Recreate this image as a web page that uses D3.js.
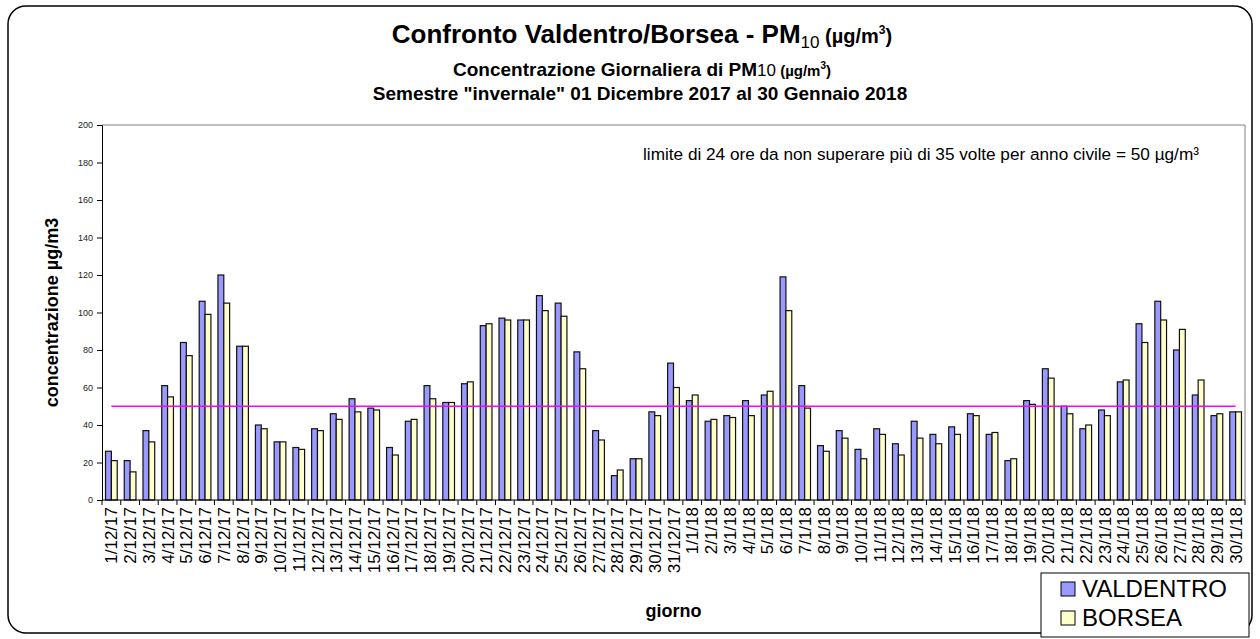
<!DOCTYPE html>
<html>
<head>
<meta charset="utf-8">
<script src="https://cdn.jsdelivr.net/npm/d3@7"></script>
<style>
  body { margin: 0; background: #fff; }
  svg { font-family: "Liberation Sans", Arial, sans-serif; }
</style>
</head>
<body>
<div id="chart"></div>
<script>
var giorni = ["1/12/17","2/12/17","3/12/17","4/12/17","5/12/17","6/12/17","7/12/17","8/12/17","9/12/17","10/12/17",
              "11/12/17","12/12/17","13/12/17","14/12/17","15/12/17","16/12/17","17/12/17","18/12/17","19/12/17","20/12/17",
              "21/12/17","22/12/17","23/12/17","24/12/17","25/12/17","26/12/17","27/12/17","28/12/17","29/12/17","30/12/17",
              "31/12/17","1/1/18","2/1/18","3/1/18","4/1/18","5/1/18","6/1/18","7/1/18","8/1/18","9/1/18",
              "10/1/18","11/1/18","12/1/18","13/1/18","14/1/18","15/1/18","16/1/18","17/1/18","18/1/18","19/1/18",
              "20/1/18","21/1/18","22/1/18","23/1/18","24/1/18","25/1/18","26/1/18","27/1/18","28/1/18","29/1/18","30/1/18"];
var valdentro = [26,21,37,61,84,106,120,82,40,31, 28,38,46,54,49,28,42,61,52,62, 93,97,96,109,105,79,37,13,22,47,
                 73, 53,42,45,53,56,119,61,29,37, 27,38,30,42,35,39,46,35,21,53, 70,50,38,48,63,94,106,80,56,45,47];
var borsea = [21,15,31,55,77,99,105,82,38,31, 27,37,43,47,48,24,43,54,52,63, 94,96,96,101,98,70,32,16,22,45,
              60, 56,43,44,45,58,101,49,26,33, 22,35,24,33,30,35,45,36,22,51, 65,46,40,45,64,84,96,91,64,46,47];
var serie = ["VALDENTRO", "BORSEA"];
var colori = ["#9999ff", "#ffffcc"];
var yTicks = [0,20,40,60,80,100,120,140,160,180,200];
var limite = 50;

function init()
{
    var w = 1260;
    var h = 639;
    var left = 102, right = 1245, top = 125, bottom = 500;

    var svg = d3.select("#chart")
                .append("svg")
                .attr("width", w)
                .attr("height", h);

    // cornice esterna
    svg.append("rect")
       .attr("x", 8).attr("y", 6)
       .attr("width", 1244).attr("height", 627)
       .attr("rx", 18).attr("ry", 18)
       .attr("fill", "none")
       .attr("stroke", "#000")
       .attr("stroke-width", 1.5);

    var xScale = d3.scaleBand()
                   .domain(giorni)
                   .range([left, right])
                   .paddingInner(0.375)
                   .paddingOuter(0.1875);

    var xSub = d3.scaleBand()
                 .domain(serie)
                 .range([0, xScale.bandwidth()]);

    var yScale = d3.scaleLinear()
                   .domain([0, 200])
                   .range([bottom, top]);

    // bordo area grafico
    svg.append("path")
       .attr("d", "M" + left + "," + top + "H" + right + "V" + bottom)
       .attr("fill", "none")
       .attr("stroke", "#808080")
       .attr("stroke-width", 1);

    var dati = giorni.map(function(g, i) {
        return {giorno: g, valori: [valdentro[i], borsea[i]]};
    });

    var gruppi = svg.selectAll("g.giorno")
                    .data(dati)
                    .enter()
                    .append("g")
                    .attr("class", "giorno")
                    .attr("transform", function(d) {
                        return "translate(" + xScale(d.giorno) + ",0)";
                    });

    gruppi.selectAll("rect")
          .data(function(d) { return d.valori; })
          .enter()
          .append("rect")
          .attr("x", function(d, i) { return xSub(serie[i]); })
          .attr("y", function(d) { return yScale(d); })
          .attr("width", xSub.bandwidth())
          .attr("height", function(d) { return bottom - yScale(d); })
          .attr("fill", function(d, i) { return colori[i]; })
          .attr("stroke", "#111")
          .attr("stroke-width", 1.2);

    // asse y
    var yAxis = d3.axisLeft(yScale)
                  .tickValues(yTicks)
                  .tickSize(5)
                  .tickPadding(4);
    var gy = svg.append("g")
                .attr("transform", "translate(" + left + ",0)")
                .call(yAxis);
    gy.select(".domain").attr("stroke", "#000");
    gy.selectAll("text").attr("font-size", "9px").attr("fill", "#222")
      .attr("font-family", "\"Liberation Sans\", Arial, sans-serif");

    // asse x
    var xAxis = d3.axisBottom(xScale).tickSize(0).tickPadding(0);
    var gx = svg.append("g")
                .attr("transform", "translate(0," + bottom + ")")
                .call(xAxis);
    gx.select(".domain").attr("stroke", "#000").attr("d", "M" + left + ",0H" + right);
    gx.selectAll(".tick text")
      .attr("font-size", "17px")
      .attr("fill", "#000")
      .attr("font-family", "\"Liberation Sans\", Arial, sans-serif")
      .attr("text-anchor", "end")
      .attr("transform", "rotate(-90)")
      .attr("x", -7)
      .attr("y", 0)
      .attr("dy", "0.36em");

    // tacche tra le categorie
    var step = xScale.step();
    var confini = giorni.map(function(g) { return xScale(g) - step * xScale.paddingOuter(); });
    confini.push(right);
    gx.selectAll("line.sep")
      .data(confini)
      .enter()
      .append("line")
      .attr("class", "sep")
      .attr("x1", function(d) { return d; })
      .attr("x2", function(d) { return d; })
      .attr("y1", 0)
      .attr("y2", 5)
      .attr("stroke", "#000");

    // linea del limite
    var x0 = xScale(giorni[0]) + xScale.bandwidth() / 2;
    var x1 = xScale(giorni[giorni.length - 1]) + xScale.bandwidth() / 2;
    svg.append("line")
       .attr("x1", x0).attr("x2", x1)
       .attr("y1", yScale(limite)).attr("y2", yScale(limite))
       .attr("stroke", "#ff00ff")
       .attr("stroke-width", 1.6);

    svg.append("text")
       .attr("x", 643)
       .attr("y", 160)
       .attr("font-size", "17.2px")
       .attr("fill", "#000")
       .text("limite di 24 ore da non superare più di 35 volte per anno civile = 50 µg/m³");

    // titoli
    var t1 = svg.append("text")
                .attr("x", 642).attr("y", 43)
                .attr("text-anchor", "middle")
                .attr("font-weight", "bold");
    t1.append("tspan").attr("font-size", "26px").text("Confronto Valdentro/Borsea - PM");
    t1.append("tspan").attr("font-size", "17px").attr("font-weight", "normal").attr("dy", 5).text("10");
    t1.append("tspan").attr("font-size", "20px").attr("dy", -5).text(" (µg/m");
    t1.append("tspan").attr("font-size", "12px").attr("dy", -9).text("3");
    t1.append("tspan").attr("font-size", "20px").attr("dy", 9).text(")");

    var t2 = svg.append("text")
                .attr("x", 642).attr("y", 76)
                .attr("text-anchor", "middle")
                .attr("font-weight", "bold");
    t2.append("tspan").attr("font-size", "19px").text("Concentrazione Giornaliera di PM");
    t2.append("tspan").attr("font-size", "17px").attr("font-weight", "normal").text("10");
    t2.append("tspan").attr("font-size", "15px").text(" (µg/m");
    t2.append("tspan").attr("font-size", "10px").attr("dy", -7).text("3");
    t2.append("tspan").attr("font-size", "15px").attr("dy", 7).text(")");

    svg.append("text")
       .attr("x", 640).attr("y", 100)
       .attr("text-anchor", "middle")
       .attr("font-weight", "bold")
       .attr("font-size", "19px")
       .text("Semestre \"invernale\" 01 Dicembre 2017 al 30 Gennaio 2018");

    // titoli assi
    svg.append("text")
       .attr("transform", "translate(58," + (top + bottom) / 2 + ") rotate(-90)")
       .attr("text-anchor", "middle")
       .attr("font-weight", "bold")
       .attr("font-size", "18px")
       .text("concentrazione µg/m3");

    svg.append("text")
       .attr("x", (left + right) / 2)
       .attr("y", 617)
       .attr("text-anchor", "middle")
       .attr("font-weight", "bold")
       .attr("font-size", "18px")
       .text("giorno");

    // legenda
    var leg = svg.append("g").attr("transform", "translate(1041,573)");
    leg.append("rect")
       .attr("width", 208).attr("height", 64)
       .attr("fill", "#fff")
       .attr("stroke", "#000")
       .attr("stroke-width", 1);
    var voci = leg.selectAll("g.voce")
                  .data(serie)
                  .enter()
                  .append("g")
                  .attr("class", "voce")
                  .attr("transform", function(d, i) { return "translate(20," + (9 + i * 29) + ")"; });
    voci.append("rect")
        .attr("width", 14).attr("height", 14)
        .attr("fill", function(d, i) { return colori[i]; })
        .attr("stroke", "#000");
    voci.append("text")
        .attr("x", 21)
        .attr("y", 15)
        .attr("font-size", "24px")
        .text(function(d) { return d; });
}
window.onload = init;
</script>
</body>
</html>
